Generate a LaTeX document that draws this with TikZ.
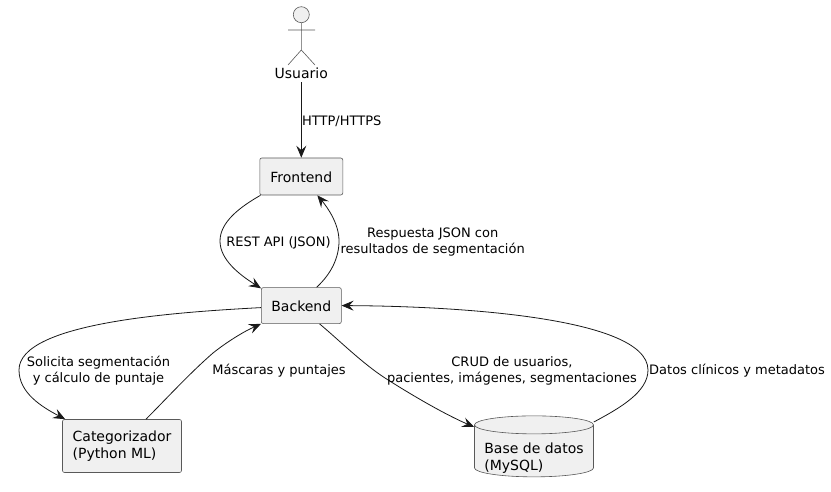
\documentclass[tikz,border=0pt]{standalone}
\usepackage{fontspec}
\setmainfont{DejaVu Sans}
\usetikzlibrary{arrows.meta,positioning,shapes.geometric}
\newcommand{\dbline}[1]{\raisebox{-6.5pt}[0pt][0pt]{#1}}

\begin{document}
\begin{tikzpicture}[
                    x=1pt, y=-1pt,
                    >={Stealth[length=12pt,width=10pt,inset=4.5pt]},
                    box/.style={draw=black!65, fill=black!6, rectangle, rounded corners=2pt, line width=0.6pt, align=left, font=\fontsize{14}{17}\selectfont, execute at begin node={\rule{0pt}{12.6pt}}},
                    db/.style={draw=black!65, fill=black!6, cylinder, shape border rotate=90, shape aspect=0.17, cylinder uses custom fill, cylinder body fill=black!6, cylinder end fill=black!6, line width=0.6pt, minimum width=119pt, minimum height=61pt, align=left, font=\fontsize{14}{17}\selectfont, execute at begin node={\rule{0pt}{23pt}}},
                    lbl/.style={align=center, inner sep=0pt, font=\fontsize{13}{15.5}\selectfont},
                    link/.style={->, line width=0.8pt, black!90}
                ]
                    \useasboundingbox (0,0) rectangle (831,492);

                    % actor
                    \node[draw=black!65, fill=black!6, circle, minimum size=16pt, inner sep=0pt, line width=0.6pt] (head) at (301.3,14.7) {};
                    \coordinate (neck) at (301.3,50);
                    \coordinate (armL) at (288,30);
                    \coordinate (armR) at (315,30);
                    \coordinate (legL) at (288,65);
                    \coordinate (legR) at (315,65);
                    \draw[black!65, line width=0.6pt] (head) -- (neck) -- (legL) (neck) -- (legR) (armL) -- (armR);
                    \node[inner sep=0pt, font=\fontsize{14}{17}\selectfont] (usuario) at (301.3,73.5) {Usuario};

                    % nodes
                    \node[box, minimum width=83pt, minimum height=37pt] (frontend) at (301.3,176.5) {Frontend};
                    \node[box, minimum width=80pt, minimum height=36pt, below=92pt of frontend] (backend) {Backend};
                    \node[box, minimum width=119pt, minimum height=53pt] (categorizador) at (122,446) {Categorizador\\(Python ML)};
                    \node[db] (basedatos) at (534,452.5) {\dbline{Base de datos}\\\dbline{(MySQL)}};

                    % connectors
                    \draw[link] ([yshift=-3pt]usuario.south) -- (frontend.north);
                    \draw[link] ([xshift=1pt]frontend.south west) .. controls (240,207) and (220,222) .. (220,241) .. controls (220,260) and (240,275) .. ([yshift=-1pt]backend.north west);
                    \draw[link] ([xshift=-25pt]backend.north east) .. controls (331,274) and (339,258) .. (339,241) .. controls (339,224) and (328,208) .. ([xshift=16pt]frontend.south);
                    \draw[link] ([yshift=-2pt]backend.west) .. controls (180,312) and (19,322) .. (19,370) .. controls (19,393) and (42,407) .. ([xshift=3pt]categorizador.north west);
                    \draw[link] ([xshift=24pt]categorizador.north) .. controls (168,397) and (190,373) .. (213,353) .. controls (228,341) and (245,331) .. (backend.south west);
                    \draw[link] ([xshift=-22pt]backend.south east) .. controls (340,341) and (362,363) .. (385,378) .. controls (410,394) and (444,414) .. ([yshift=25.5pt]basedatos.west);
                    \draw[link] ([yshift=30.5pt]basedatos.east) .. controls (620,408) and (648,392) .. (648,370) .. controls (648,315) and (440,306) .. (backend.east);

                    % labels
                    \node[lbl, right] (httpLbl) at (302,121.5) {HTTP/HTTPS};
                    \node[lbl] (restLbl) at (278.5,242.5) {REST API (JSON)};
                    \node[lbl] (respuestaLbl) at (432.7,242) {Respuesta JSON con\\resultados de segmentación};
                    \node[lbl] (solicitaLbl) at (98.5,370.7) {Solicita segmentación\\y cálculo de puntaje};
                    \node[lbl] (mascarasLbl) at (279,371) {Máscaras y puntajes};
                    \node[lbl] (crudLbl) at (512,370.7) {CRUD de usuarios,\\pacientes, imágenes, segmentaciones};
                    \node[lbl, right] (datosLbl) at (649,371) {Datos clínicos y metadatos};
                \end{tikzpicture}
\end{document}
